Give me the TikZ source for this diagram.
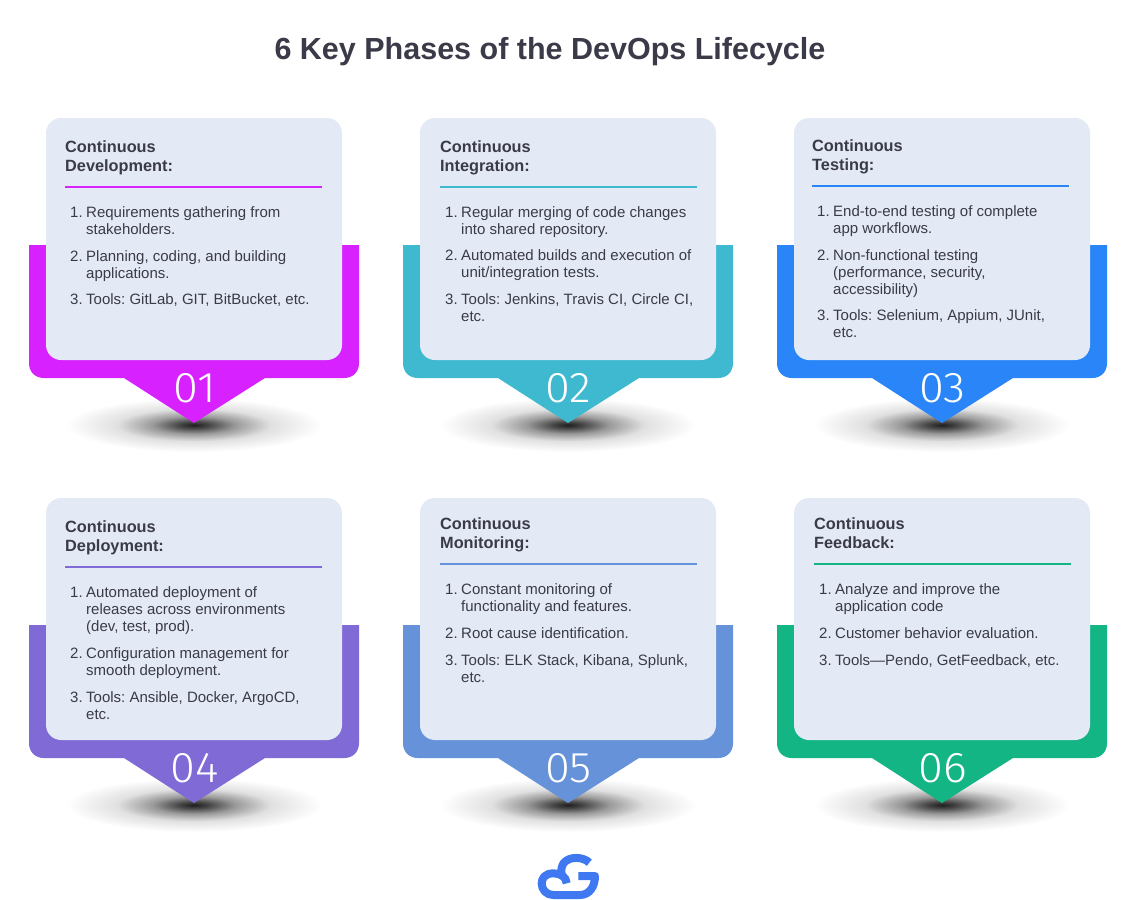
\documentclass[tikz,border=0pt]{standalone}
\usepackage{fontspec}
\setmainfont{Liberation Sans}
\newfontfamily\numfont{Fira Sans Light}
\frenchspacing
\definecolor{ink}{HTML}{3A3A48}
\definecolor{panel}{HTML}{E4EAF5}
\definecolor{cA}{HTML}{D722FF}
\definecolor{cB}{HTML}{3EB9D0}
\definecolor{cC}{HTML}{2A86F8}
\definecolor{cD}{HTML}{7F6AD6}
\definecolor{cE}{HTML}{6592D8}
\definecolor{cF}{HTML}{14B585}
\definecolor{logo}{HTML}{3F78F0}
\pgfdeclareradialshading{floorshadow}{\pgfpoint{0bp}{0bp}}{color(0bp)=(black!88); color(3bp)=(black!72); color(8bp)=(black!40); color(15bp)=(black!12); color(25bp)=(white); color(100bp)=(white)}
\newcount\linecnt
\newcommand\tline[3]{\global\advance\linecnt by 1 \node[itemtext] (line\the\linecnt) at (#1,#2+5) {#3};}
\newcommand\ttitle[3]{\global\advance\linecnt by 1 \node[titletext] (line\the\linecnt) at (#1,#2+5.5) {#3};}
% dx, dy, colour, number, rule y, rule x
\newcommand\card[6]{%
\begin{scope}[shift={(#1,#2)}]
\shade[shading=floorshadow] (194,425) ellipse (128 and 27);
\fill[#3] (29,245) -- (29,363) .. controls (29,372) and (35,378) .. (44,378) -- (124,378) -- (194,423) -- (265,378) -- (344,378) .. controls (353,378) and (359,372) .. (359,363) -- (359,245) -- cycle;
\node[numtext] (num#4) at (194.5,402) {\scalebox{1.05}[1]{#4}};
\fill[panel,rounded corners=15] (46,118) rectangle (342,360);
\end{scope}
\fill[#3] (#6,#5-1) rectangle (#6+257,#5+1);
}
\tikzset{
itemtext/.style={anchor=base west,inner sep=0,text=ink,font=\fontsize{15}{17}\selectfont},
titletext/.style={anchor=base west,inner sep=0,text=ink,font=\fontsize{16.3}{18}\selectfont\bfseries},
numtext/.style={inner sep=0,text=white,anchor=base,font=\numfont\fontsize{43}{45}\selectfont},
}
\begin{document}
\begin{tikzpicture}[x=1pt,y=-1pt]
\useasboundingbox (0,0) rectangle (1136,900);
\fill[white] (0,0) rectangle (1136,900);
\node[anchor=center,inner sep=0,text=ink,font=\fontsize{30.5}{34}\selectfont\bfseries] (heading) at (550,52) {6 Key Phases of the DevOps Lifecycle};
\card{0}{0}{cA}{01}{187}{65}
\card{374}{0}{cB}{02}{187}{440}
\card{748}{0}{cC}{03}{186}{812}
\card{0}{380}{cD}{04}{567}{65}
\card{374}{380}{cE}{05}{564}{440}
\card{748}{380}{cF}{06}{564}{814}
% 1
\ttitle{65}{147}{Continuous}\ttitle{65}{166}{Development:}
\tline{70}{212}{1.}\tline{86}{212}{Requirements gathering from}\tline{86}{229}{stakeholders.}
\tline{70}{256}{2.}\tline{86}{256}{Planning, coding, and building}\tline{86}{273}{applications.}
\tline{70}{299}{3.}\tline{86}{299}{Tools: GitLab, GIT, BitBucket, etc.}
% 2
\ttitle{440}{147}{Continuous}\ttitle{440}{166}{Integration:}
\tline{445}{212}{1.}\tline{461}{212}{Regular merging of code changes}\tline{461}{229}{into shared repository.}
\tline{445}{255}{2.}\tline{461}{255}{Automated builds and execution of}\tline{461}{272}{unit/integration tests.}
\tline{445}{299}{3.}\tline{461}{299}{Tools: Jenkins, Travis CI, Circle CI,}\tline{461}{316}{etc.}
% 3
\ttitle{812}{146}{Continuous}\ttitle{812}{165}{Testing:}
\tline{817}{211}{1.}\tline{833}{211}{End-to-end testing of complete}\tline{833}{228}{app workflows.}
\tline{817}{255}{2.}\tline{833}{255}{Non-functional testing}\tline{833}{272}{(performance, security,}\tline{833}{289}{accessibility)}
\tline{817}{315}{3.}\tline{833}{315}{Tools: Selenium, Appium, JUnit,}\tline{833}{332}{etc.}
% 4
\ttitle{65}{527}{Continuous}\ttitle{65}{546}{Deployment:}
\tline{70}{592}{1.}\tline{86}{592}{Automated deployment of}\tline{86}{609}{releases across environments}\tline{86}{626}{(dev, test, prod).}
\tline{70}{653}{2.}\tline{86}{653}{Configuration management for}\tline{86}{670}{smooth deployment.}
\tline{70}{697}{3.}\tline{86}{697}{Tools: Ansible, Docker, ArgoCD,}\tline{86}{714}{etc.}
% 5
\ttitle{440}{524}{Continuous}\ttitle{440}{543}{Monitoring:}
\tline{445}{589}{1.}\tline{461}{589}{Constant monitoring of}\tline{461}{606}{functionality and features.}
\tline{445}{633}{2.}\tline{461}{633}{Root cause identification.}
\tline{445}{660}{3.}\tline{461}{660}{Tools: ELK Stack, Kibana, Splunk,}\tline{461}{677}{etc.}
% 6
\ttitle{814}{524}{Continuous}\ttitle{814}{543}{Feedback:}
\tline{819}{589}{1.}\tline{835}{589}{Analyze and improve the}\tline{835}{606}{application code}
\tline{819}{633}{2.}\tline{835}{633}{Customer behavior evaluation.}
\tline{819}{660}{3.}\tline{835}{660}{Tools—Pendo, GetFeedback, etc.}
% logo
\begin{scope}[shift={(520,850)},x=0.3333pt,y=-0.3333pt]
\draw[logo,line width=8pt,line cap=butt,line join=round] (140,100) .. controls (140,80) and (120,70) .. (100,70) .. controls (75,70) and (65,85) .. (65,100) .. controls (65,120) and (80,135) .. (100,135) -- (180,135) .. controls (208,135) and (225,110) .. (225,78) -- (175,78);
\draw[logo,line width=8pt,line cap=butt] (208,38) .. controls (190,20) and (150,18) .. (132,38) .. controls (125,47) and (122,60) .. (125,72);
\end{scope}
\end{tikzpicture}
\end{document}
